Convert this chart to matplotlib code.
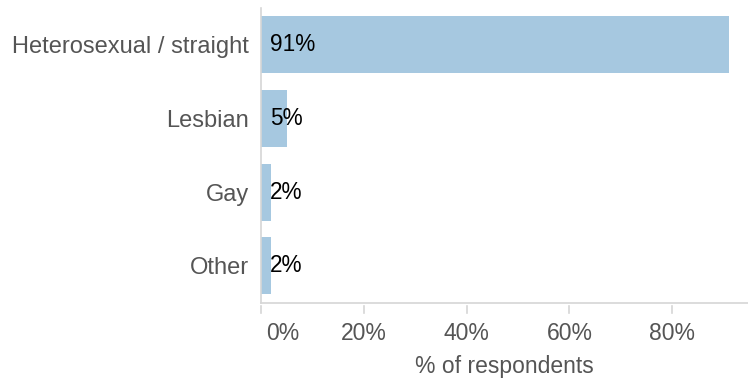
import matplotlib
matplotlib.use("Agg")
import matplotlib.pyplot as plt
from matplotlib.transforms import blended_transform_factory, ScaledTranslation

categories = ["Heterosexual / straight", "Lesbian", "Gay", "Other"]
shares = [91, 5, 2, 2]
x_ticks = [0, 20, 40, 60, 80]
x_tick_labels = ["0%", "20%", "40%", "60%", "80%"]

BAR_COLOR = "#a6c8e0"
GRID_GRAY = "#d6d6d6"
LABEL_GRAY = "#555555"

plt.rcParams["font.family"] = ["Liberation Sans", "DejaVu Sans"]

fig = plt.figure(figsize=(7.48, 3.80), dpi=100)
ax = fig.add_axes([261 / 748, 77.5 / 380, 487 / 748, 294.5 / 380])

ypos = list(range(len(categories)))
ax.barh(ypos, shares, height=0.775, color=BAR_COLOR, zorder=2)

for y, v in zip(ypos, shares):
    ax.text(1.7, y, f"{v}%", ha="left", va="center", fontsize=16.3, color="black", zorder=3)

ax.set_ylim(len(categories) - 0.5, -0.5)
ax.set_xlim(0, 94.75)
ax.set_yticks(ypos)
ax.set_yticklabels(categories, fontsize=17, color=LABEL_GRAY)
ax.tick_params(axis="y", length=0, pad=8.6)

# x ticks drawn slightly detached below the axis line
ax.set_xticks(x_ticks)
ax.set_xticklabels(x_tick_labels, fontsize=16.5, color=LABEL_GRAY)
ax.tick_params(axis="x", length=0, pad=14)
first = ax.get_xticklabels()[0]
first.set_horizontalalignment("left")
first.set_transform(first.get_transform() + ScaledTranslation(0.05, 0, fig.dpi_scale_trans))
trans = blended_transform_factory(ax.transData, ax.transAxes)
for t in x_ticks:
    ax.plot([t, t], [-0.012, -0.036], transform=trans, color=GRID_GRAY,
            lw=1.2, clip_on=False)

ax.set_xlabel("% of respondents", fontsize=16.5, color=LABEL_GRAY, labelpad=7)

for side in ("top", "right"):
    ax.spines[side].set_visible(False)
for side in ("left", "bottom"):
    ax.spines[side].set_color(GRID_GRAY)
    ax.spines[side].set_linewidth(1.2)

fig.savefig("out.png", dpi=100)
